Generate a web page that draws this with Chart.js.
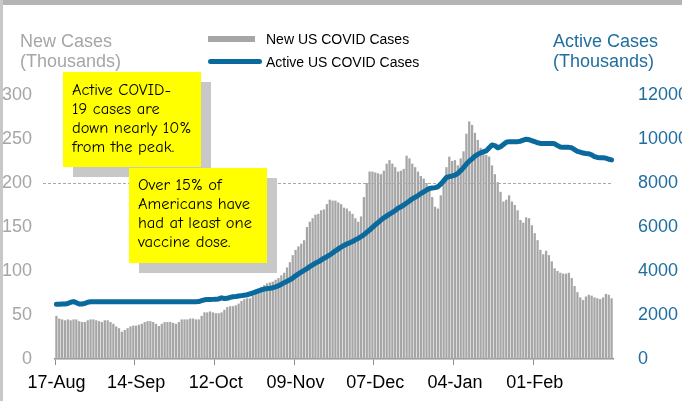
<!DOCTYPE html>
<html>
<head>
<meta charset="utf-8">
<script src="https://cdn.jsdelivr.net/npm/chart.js@4.4.1/dist/chart.umd.min.js"></script>
<style>
  body { margin: 0; background: #fff; }
  #wrap { position: relative; width: 682px; height: 401px; overflow: hidden; background: #fff;
          font-family: "Liberation Sans", Arial, sans-serif; }
  #chart { position: absolute; left: 0; top: 0; }
  .frame-top { position: absolute; left: 0; top: 0; width: 682px; height: 5px; background: #B4B4B4; }
  .frame-left { position: absolute; left: 0; top: 0; width: 3px; height: 401px; background: #C8C8C8; }
  .axis-title { position: absolute; top: 31px; font-size: 18px; line-height: 20px; white-space: nowrap; }
  .legend-text { position: absolute; left: 266px; font-size: 14px; line-height: 16px; color: #000; white-space: nowrap; }
  .note { position: absolute; width: 138px; height: 95px; background: #FFFF00; box-shadow: 10px 10px 0 #C8C8C8;
          box-sizing: border-box; padding: 8px 0 0 9px; font-family: "Comic Sans MS", "Comic Neue", "Noto Sans", sans-serif;
          font-size: 16.5px; line-height: 19px; color: #000; white-space: nowrap; }
</style>
</head>
<body>
<div id="wrap">
  <canvas id="chart" width="682" height="401"></canvas>
  <div class="frame-top"></div>
  <div class="frame-left"></div>

  <div class="axis-title" style="left:20px; color:#A6A6A6;">New Cases<br>(Thousands)</div>
  <div class="axis-title" style="left:553px; color:#1F6E9F;">Active Cases<br>(Thousands)</div>

  <div style="position:absolute; left:208px; top:36px; width:47px; height:6px; background:#A6A6A6;"></div>
  <div class="legend-text" style="top:31px;">New US COVID Cases</div>
  <div style="position:absolute; left:208px; top:59px; width:54px; height:5px; border-radius:3px; background:#0A6A9E;"></div>
  <div class="legend-text" style="top:54px;">Active US COVID Cases</div>

  <div class="note" style="left:63px; top:72px;">Active COVID-<br>19 cases are<br>down nearly 10%<br>from the peak.</div>
  <div class="note" style="left:129px; top:168px; padding-top:7px;">Over 15% of<br>Americans have<br>had at least one<br>vaccine dose.</div>
</div>

<script>
// x axis: one bar per day, 17-Aug to 28-Feb, labelled every 28 days
const startDate = new Date(2020, 7, 17);
const monthNames = ['Jan','Feb','Mar','Apr','May','Jun','Jul','Aug','Sep','Oct','Nov','Dec'];
const tickLabels = ['17-Aug', '14-Sep', '12-Oct', '09-Nov', '07-Dec', '04-Jan', '01-Feb'];
const tickEvery = 28;

// new US cases per day (thousands)
const newCases = [
  49, 46, 45, 44, 45, 44, 45,
  45, 43, 42, 42, 44, 45, 45,
  44, 43, 42, 44, 44, 42, 40,
  37, 35, 31, 33, 35, 37, 38,
  38, 39, 40, 42, 43, 43, 42,
  40, 37.5, 40, 42, 42, 42, 41,
  40, 42, 45, 45, 45, 46, 46,
  45, 45, 49, 53, 53, 54, 53,
  52, 52, 53, 56, 59, 60, 60,
  61, 63, 66, 68, 69, 69, 72,
  75, 79, 82, 84, 86, 87, 88,
  90, 92, 95, 98, 104, 110, 118,
  124, 128, 131, 135, 150, 156, 160,
  164, 165, 169, 170, 176, 181, 180,
  180, 178, 176, 172, 171, 168, 165,
  160, 156, 162, 184, 200, 213, 213,
  212, 211, 210, 214, 222, 226, 222,
  218, 213, 214, 216, 231, 228, 222,
  218, 213, 208, 205, 200, 195, 184,
  173, 171, 186, 205, 218, 230, 225,
  226, 220, 228, 236, 256, 270, 266,
  257, 249, 240, 234, 232, 230, 220,
  210, 201, 190, 179, 181, 186, 179,
  175, 169, 158, 155, 161, 160, 152,
  143, 135, 124, 119, 123, 118, 111,
  103, 100, 98, 97, 97, 98, 92,
  83, 76, 70, 67, 71, 73, 72,
  70, 69, 68, 70, 74, 73, 69
];

// active US cases (thousands)
const activeCases = [
  2490, 2490, 2500, 2500, 2520, 2580, 2610,
  2560, 2500, 2500, 2530, 2580, 2600, 2600,
  2600, 2600, 2600, 2600, 2600, 2600, 2600,
  2600, 2600, 2600, 2600, 2600, 2600, 2600,
  2600, 2600, 2600, 2600, 2600, 2600, 2600,
  2600, 2600, 2600, 2600, 2600, 2600, 2600,
  2600, 2600, 2600, 2600, 2600, 2600, 2600,
  2600, 2610, 2650, 2690, 2700, 2700, 2710,
  2720, 2730, 2780, 2750, 2760, 2800, 2830,
  2840, 2860, 2880, 2900, 2920, 2960, 3000,
  3050, 3100, 3140, 3180, 3200, 3210, 3240,
  3280, 3330, 3400, 3470, 3530, 3600, 3680,
  3780, 3870, 3950, 4030, 4110, 4200, 4280,
  4360, 4420, 4500, 4580, 4650, 4730, 4820,
  4920, 5000, 5080, 5160, 5230, 5280, 5340,
  5420, 5480, 5560, 5650, 5760, 5860, 5980,
  6100, 6200, 6320, 6420, 6500, 6580, 6660,
  6750, 6850, 6920, 7000, 7090, 7180, 7280,
  7350, 7430, 7520, 7600, 7680, 7750, 7770,
  7790, 7830, 7950, 8100, 8250, 8290, 8320,
  8360, 8440, 8560, 8700, 8860, 8990, 9100,
  9220, 9300, 9370, 9420, 9460, 9600, 9730,
  9700, 9600, 9650, 9750, 9850, 9880, 9880,
  9880, 9880, 9900, 9950, 9990, 9970, 9920,
  9880, 9830, 9800, 9800, 9800, 9800, 9800,
  9780, 9700, 9640, 9620, 9620, 9620, 9600,
  9520, 9440, 9400, 9360, 9340, 9330, 9280,
  9200, 9160, 9150, 9150, 9130, 9080, 9050
];

const refLine = 200; // dotted guide at 200k new cases

const days = newCases.map((_, i) => {
  const d = new Date(startDate);
  d.setDate(d.getDate() + i);
  return String(d.getDate()).padStart(2, '0') + '-' + monthNames[d.getMonth()];
});

const greyText = '#A6A6A6';
const blueText = '#1F6E9F';

// dotted line at 200, drawn over the bars but under the active line
const refLinePlugin = {
  id: 'refLine',
  afterDatasetDraw(chart, args) {
    if (args.index !== 0) return;
    const { ctx, chartArea, scales } = chart;
    const y = Math.round(scales.y.getPixelForValue(refLine)) + 0.5;
    ctx.save();
    ctx.strokeStyle = '#A8A8A8';
    ctx.lineWidth = 1.2;
    ctx.setLineDash([3, 2]);
    ctx.beginPath();
    ctx.moveTo(43, y);
    ctx.lineTo(chartArea.right, y);
    ctx.stroke();
    ctx.restore();
  }
};

new Chart(document.getElementById('chart'), {
  type: 'bar',
  data: {
    labels: days,
    datasets: [
      {
        label: 'New US COVID Cases',
        data: newCases,
        yAxisID: 'y',
        backgroundColor: '#A6A6A6',
        barPercentage: 0.8,
        categoryPercentage: 1.0,
        order: 1
      },
      {
        type: 'line',
        label: 'Active US COVID Cases',
        data: activeCases,
        yAxisID: 'y2',
        borderColor: '#0A6A9E',
        borderWidth: 5,
        borderCapStyle: 'round',
        borderJoinStyle: 'round',
        pointRadius: 0,
        tension: 0,
        order: 0
      }
    ]
  },
  options: {
    responsive: false,
    animation: false,
    devicePixelRatio: 1,
    layout: { padding: { left: 0, right: 0, top: 95, bottom: 0 } },
    plugins: {
      legend: { display: false },
      tooltip: { enabled: false }
    },
    scales: {
      x: {
        offset: true,
        grid: {
          offset: true,
          drawOnChartArea: false,
          tickLength: 6,
          color: (ctx) => (ctx.index % tickEvery === 0 ? '#8C8C8C' : 'rgba(0,0,0,0)')
        },
        border: { color: '#8C8C8C', width: 1.5 },
        ticks: {
          autoSkip: false,
          maxRotation: 0,
          minRotation: 0,
          padding: 7,
          color: '#000',
          font: { family: '"Liberation Sans", Arial, sans-serif', size: 18 },
          callback: (v, i) => (i % tickEvery === 0 ? tickLabels[i / tickEvery] : '')
        },
        afterFit: (s) => { s.height = 42; }
      },
      y: {
        position: 'left',
        min: 0,
        max: 300,
        grid: { display: false },
        border: { display: false },
        ticks: {
          stepSize: 50,
          padding: 15,
          color: greyText,
          font: { family: '"Liberation Sans", Arial, sans-serif', size: 18 }
        },
        afterFit: (s) => { s.width = 55; }
      },
      y2: {
        position: 'right',
        min: 0,
        max: 12000,
        grid: { display: false },
        border: { display: false },
        ticks: {
          stepSize: 2000,
          padding: 17,
          color: blueText,
          font: { family: '"Liberation Sans", Arial, sans-serif', size: 18 },
          callback: (v) => String(v)
        },
        afterFit: (s) => { s.width = 69; }
      }
    }
  },
  plugins: [refLinePlugin]
});
</script>
</body>
</html>
